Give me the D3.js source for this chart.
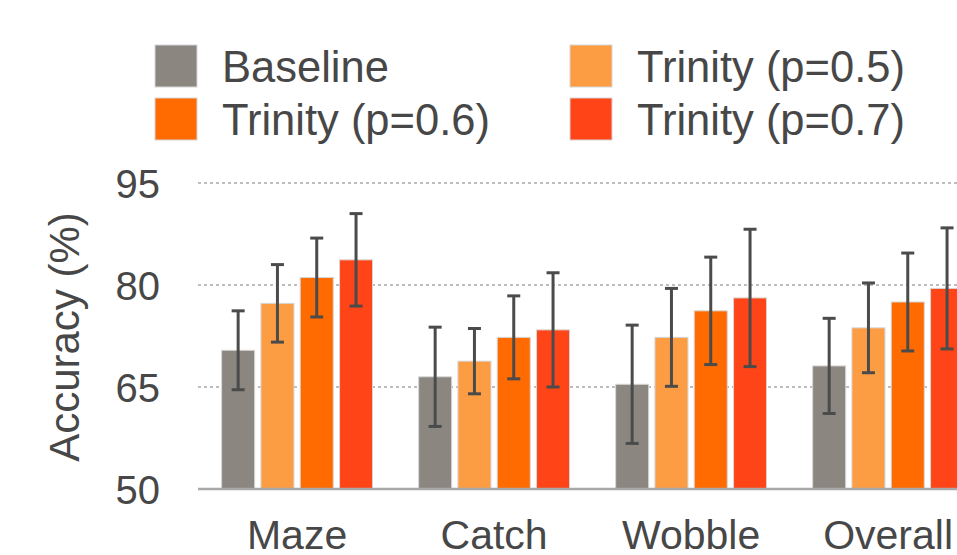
<!DOCTYPE html>
<html>
<head>
<meta charset="utf-8">
<script src="https://cdn.jsdelivr.net/npm/d3@7"></script>
<style>
  html, body { margin: 0; padding: 0; background: #fff; overflow: hidden; }
  text { font-family: "Liberation Sans", Arial, Helvetica, sans-serif; fill: #474747; }
</style>
</head>
<body>
<svg id="chart" width="957" height="555"></svg>
<script>
// Accuracy (%) per task, mean and error half-width
const categories = ["Maze", "Catch", "Wobble", "Overall"];
const seriesNames = ["Baseline", "Trinity (p=0.5)", "Trinity (p=0.6)", "Trinity (p=0.7)"];
const seriesColors = ["#8b8680", "#fd9d43", "#ff6b00", "#ff4517"];
const baselineMean = [70.4, 66.5, 65.4, 68.1];
const baselineErr  = [5.8, 7.3, 8.7, 7.0];
const p05Mean = [77.3, 68.8, 72.3, 73.7];
const p05Err  = [5.7, 4.8, 7.2, 6.6];
const p06Mean = [81.1, 72.3, 76.2, 77.5];
const p06Err  = [5.8, 6.1, 7.9, 7.2];
const p07Mean = [83.7, 73.4, 78.1, 79.5];
const p07Err  = [6.8, 8.4, 10.1, 8.9];
const yTicks = [50, 65, 80, 95];

const means = [baselineMean, p05Mean, p06Mean, p07Mean];
const errs = [baselineErr, p05Err, p06Err, p07Err];
const rows = [];
categories.forEach((c, ci) => {
  seriesNames.forEach((s, si) => {
    rows.push({ cat: c, series: s, color: seriesColors[si], mean: means[si][ci], err: errs[si][ci] });
  });
});

const svg = d3.select("#chart");

const y = d3.scaleLinear().domain([50, 95]).range([489, 183]);
const x0 = d3.scaleBand().domain(categories).range([198, 987.2])
  .paddingInner(0.234).paddingOuter(0.12);
const x1 = d3.scaleBand().domain(seriesNames).range([0, x0.bandwidth()])
  .paddingInner(0.16).paddingOuter(0);

// Gridlines
svg.append("g").selectAll("line")
  .data(yTicks.filter(t => t !== 50))
  .join("line")
  .attr("x1", 198).attr("x2", 957)
  .attr("y1", d => y(d)).attr("y2", d => y(d))
  .attr("stroke", "#a9a9a9").attr("stroke-width", 1.3)
  .attr("stroke-dasharray", "3,3");

// Y axis labels
const yAxis = d3.axisLeft(y).tickValues(yTicks).tickSize(0).tickPadding(0);
const yg = svg.append("g").attr("transform", "translate(160,0)").call(yAxis);
yg.select(".domain").remove();
yg.selectAll("text")
  .attr("font-size", 40)
  .attr("fill", "#474747")
  .attr("dy", "0.36em")
  .style("font-family", "'Liberation Sans', Arial, sans-serif");

// Axis title
svg.append("text")
  .attr("transform", "translate(79,337) rotate(-90)")
  .attr("text-anchor", "middle")
  .attr("font-size", 42)
  .text("Accuracy (%)");

// Bars
const groups = svg.append("g").selectAll("g")
  .data(categories)
  .join("g")
  .attr("transform", d => `translate(${x0(d)},0)`);

groups.selectAll("rect")
  .data(c => rows.filter(r => r.cat === c))
  .join("rect")
  .attr("x", d => x1(d.series))
  .attr("width", x1.bandwidth())
  .attr("y", d => y(d.mean))
  .attr("height", d => y(50) - y(d.mean))
  .attr("fill", d => d.color)
  .attr("stroke", "#d6d6d6")
  .attr("stroke-width", 1);

// Error bars
const eb = groups.selectAll("g.err")
  .data(c => rows.filter(r => r.cat === c))
  .join("g").attr("class", "err");
const capW = 13;
eb.append("line")
  .attr("x1", d => x1(d.series) + x1.bandwidth() / 2)
  .attr("x2", d => x1(d.series) + x1.bandwidth() / 2)
  .attr("y1", d => y(d.mean + d.err))
  .attr("y2", d => y(d.mean - d.err))
  .attr("stroke", "#4b4b4b").attr("stroke-width", 3);
[1, -1].forEach(sign => {
  eb.append("line")
    .attr("x1", d => x1(d.series) + x1.bandwidth() / 2 - capW / 2)
    .attr("x2", d => x1(d.series) + x1.bandwidth() / 2 + capW / 2)
    .attr("y1", d => y(d.mean + sign * d.err))
    .attr("y2", d => y(d.mean + sign * d.err))
    .attr("stroke", "#4b4b4b").attr("stroke-width", 3);
});

// Baseline axis line
svg.append("line")
  .attr("x1", 198).attr("x2", 957)
  .attr("y1", y(50)).attr("y2", y(50))
  .attr("stroke", "#a9a9a9").attr("stroke-width", 2.5);

// Category labels
svg.append("g").selectAll("text")
  .data(categories)
  .join("text")
  .attr("x", d => x0(d) + x0.bandwidth() / 2)
  .attr("y", 549)
  .attr("text-anchor", "middle")
  .attr("font-size", 41)
  .text(d => d);

// Legend
const legendPos = [
  { x: 155, y: 45 }, { x: 570, y: 45 },
  { x: 155, y: 98 }, { x: 570, y: 98 }
];
const legend = svg.append("g").selectAll("g")
  .data(seriesNames)
  .join("g")
  .attr("transform", (d, i) => `translate(${legendPos[i].x},${legendPos[i].y})`);
legend.append("rect")
  .attr("width", 42).attr("height", 42)
  .attr("fill", (d, i) => seriesColors[i])
  .attr("stroke", "#d6d6d6").attr("stroke-width", 1);
legend.append("text")
  .attr("x", 67).attr("y", 37)
  .attr("font-size", 43.5)
  .text(d => d);
</script>
</body>
</html>
